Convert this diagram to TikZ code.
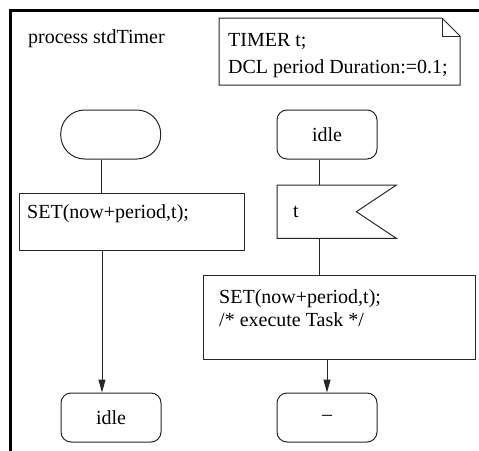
\documentclass[tikz,border=0pt]{standalone}
\usepackage{fontspec}
\setmainfont{Liberation Serif}
\usetikzlibrary{arrows.meta,calc}
\begin{document}
\begin{tikzpicture}[x=1pt,y=-1pt,
  every node/.style={font=\fontsize{20}{24}\selectfont, inner sep=0pt},
  ln/.style={line width=1pt, draw=black!85},
  box/.style={ln, draw, rectangle, anchor=north west},
  statebox/.style={ln, draw, rectangle, rounded corners=10pt, minimum width=100pt, minimum height=49pt},
  startbox/.style={ln, draw, rectangle, rounded corners=24pt, minimum width=100pt, minimum height=49pt},
  arr/.style={ln, -{Triangle[length=13pt,width=7pt]}},
  lbl/.style={anchor=base west}]
\useasboundingbox (0,0) rectangle (479,450);
\draw[line width=3pt] (10.5,451) -- (10.5,10) -- (480,10);

\node[lbl] (title) at (28,43) {process stdTimer};

% note with folded corner
\draw[ln] (219,18) -- (442,18) -- (460,36) -- (460,85) -- (219,85) -- cycle;
\draw[ln] (442,18) -- (442,36) -- (460,36);
\node[lbl] (nt1) at (228,46) {TIMER t;};
\node[lbl] (nt2) at (228,73) {DCL period Duration:=0.1;};

% left column
\node[startbox] (start) at (110.7,134.5) {};
\node[box, minimum width=225pt, minimum height=57pt] (set1) at (19,193) {};
\node[lbl] (set1t) at (27,218) {SET(now+period,t);};
\node[statebox] (idle1) at (111,417.5) {idle};
\draw[ln] (start.south west) ++(41.3,0) coordinate (a1) -- (a1 |- set1.north);
\draw[arr] (set1.south west) ++(83,0) coordinate (a2) -- (a2 |- idle1.north);

% right column
\node[statebox] (idle2) at (327,134.5) {idle};
\node[minimum width=119pt, minimum height=53pt, anchor=north west] (sig) at (277,185) {};
\draw[ln] (sig.north west) -- (sig.north east) -- ($(sig.east)+(-40,0)$) -- (sig.south east) -- (sig.south west) -- cycle;
\node[anchor=west] (sigt) at (293,212) {t};
\node[box, minimum width=272pt, minimum height=84pt] (task) at (203,275) {};
\node[lbl] (tt1) at (219,303) {SET(now+period,t);};
\node[lbl] (tt2) at (219,326) {/* execute Task */};
\node[statebox] (dash) at (327,417.5) {--};
\draw[ln] (idle2.south) ++(-8,0) coordinate (b1) -- (b1 |- sig.north);
\draw[ln] (sig.south west) ++(42,0) coordinate (b2) -- (b2 |- task.north);
\draw[arr] (dash.north |- task.south) -- (dash.north);
\end{tikzpicture}
\end{document}
